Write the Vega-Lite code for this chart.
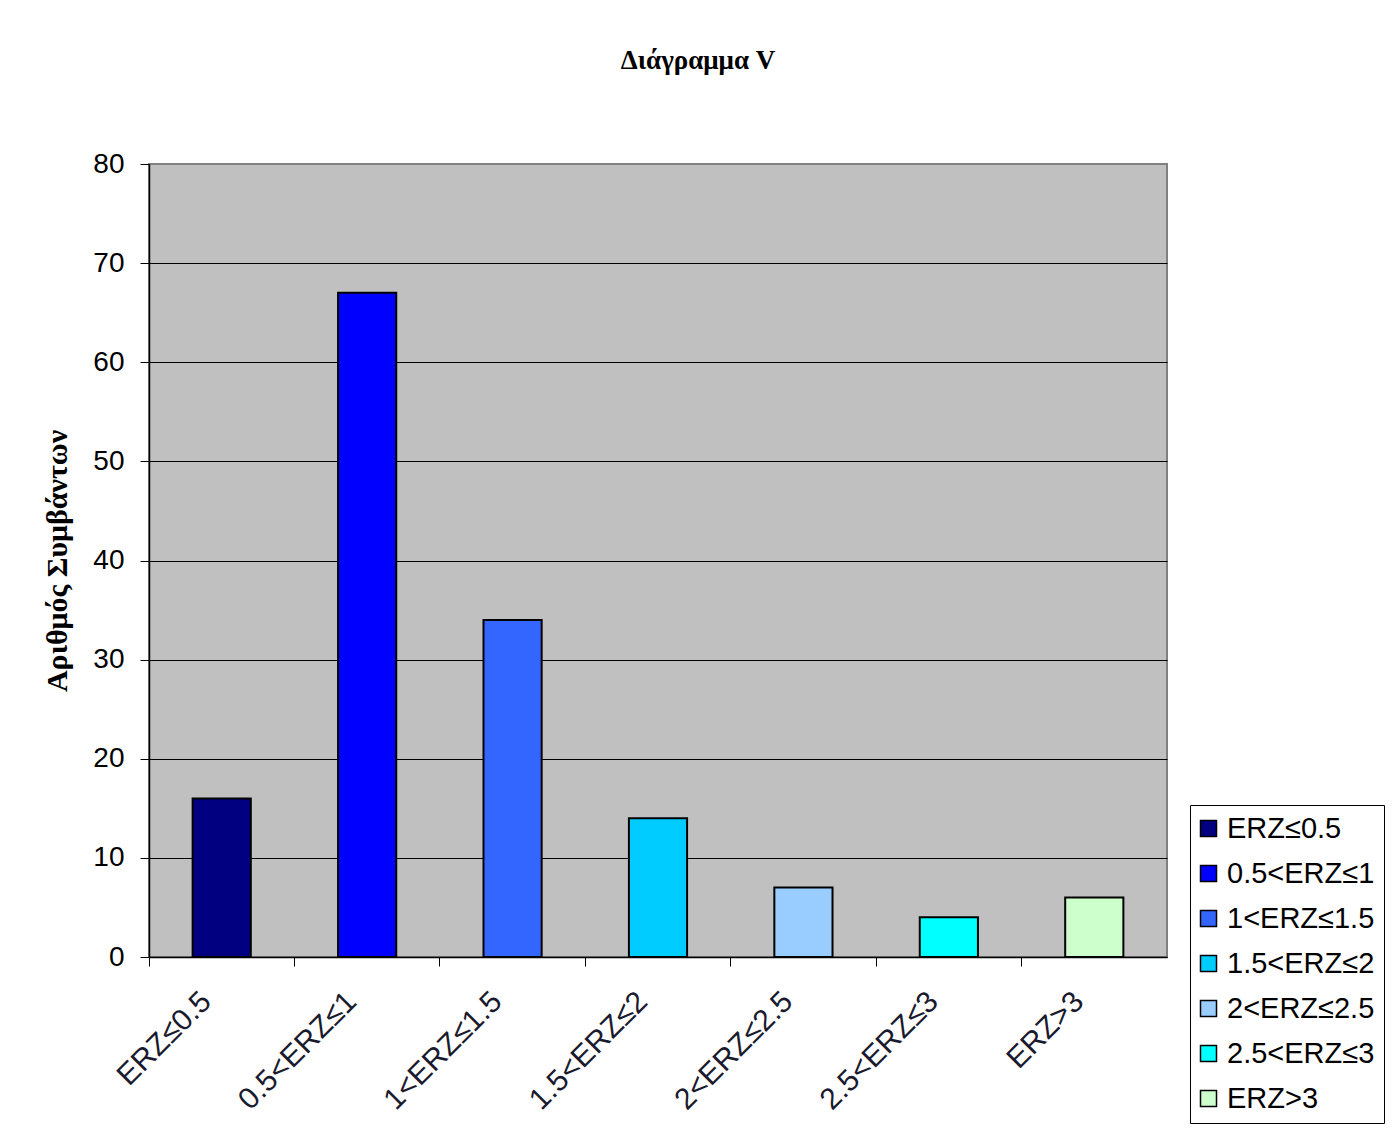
{
  "$schema": "https://vega.github.io/schema/vega-lite/v6.json",
  "width": 1018,
  "height": 793,
  "autosize": "none",
  "padding": {"left": 149, "top": 164, "right": 233, "bottom": 172},
  "background": "white",
  "title": {
    "text": "Διάγραμμα V",
    "font": "Liberation Serif",
    "fontSize": 27,
    "fontWeight": "bold",
    "color": "black",
    "anchor": "middle",
    "dx": 40,
    "offset": 75
  },
  "data": {
    "values": [
      {"category": "ERZ≤0.5", "count": 16},
      {"category": "0.5<ERZ≤1", "count": 67},
      {"category": "1<ERZ≤1.5", "count": 34},
      {"category": "1.5<ERZ≤2", "count": 14},
      {"category": "2<ERZ≤2.5", "count": 7},
      {"category": "2.5<ERZ≤3", "count": 4},
      {"category": "ERZ>3", "count": 6}
    ]
  },
  "mark": {"type": "bar", "stroke": "black", "strokeWidth": 2, "width": {"band": 0.4}},
  "encoding": {
    "x": {
      "field": "category",
      "type": "nominal",
      "sort": null,
      "scale": {"paddingInner": 0, "paddingOuter": 0},
      "axis": {
        "title": null,
        "bandPosition": 0,
        "labelOffset": -26,
        "labelAngle": -45,
        "labelFont": "Liberation Sans",
        "labelFontSize": 30,
        "labelColor": "#1a1a2e",
        "labelPadding": 20,
        "tickSize": 9,
        "tickColor": "black",
        "domainColor": "black",
        "domainWidth": 1.5,
        "grid": false
      }
    },
    "y": {
      "field": "count",
      "type": "quantitative",
      "scale": {"domain": [0, 80], "nice": false},
      "axis": {
        "title": "Αριθμός Συμβάντων",
        "titleFont": "Liberation Serif",
        "titleFontSize": 30,
        "titleFontWeight": "bold",
        "titleColor": "black",
        "titlePadding": 20,
        "values": [0, 10, 20, 30, 40, 50, 60, 70, 80],
        "labelFont": "Liberation Sans",
        "labelFontSize": 28,
        "labelColor": "black",
        "labelPadding": 16,
        "tickSize": 9,
        "tickColor": "black",
        "domainColor": "black",
        "domainWidth": 1.5,
        "grid": true,
        "gridColor": {"condition": {"test": "datum.value === 80", "value": "#808080"}, "value": "black"},
        "gridWidth": 1
      }
    },
    "color": {
      "field": "category",
      "type": "nominal",
      "sort": null,
      "scale": {
        "domain": ["ERZ≤0.5", "0.5<ERZ≤1", "1<ERZ≤1.5", "1.5<ERZ≤2", "2<ERZ≤2.5", "2.5<ERZ≤3", "ERZ>3"],
        "range": ["#000080", "#0000FF", "#3366FF", "#00CCFF", "#99CCFF", "#00FFFF", "#CCFFCC"]
      },
      "legend": {
        "title": null,
        "orient": "none",
        "legendX": 1041,
        "legendY": 641,
        "strokeColor": "black",
        "padding": 9,
        "symbolType": "square",
        "symbolSize": 256,
        "symbolOffset": -5,
        "symbolStrokeColor": "black",
        "symbolStrokeWidth": 1.5,
        "symbolOpacity": 1,
        "labelFont": "Liberation Sans",
        "labelFontSize": 29,
        "labelColor": "black",
        "labelOffset": 4,
        "labelLimit": 300,
        "rowPadding": 15
      }
    }
  },
  "config": {
    "view": {"fill": "#C0C0C0", "stroke": "#808080", "strokeWidth": 2}
  }
}
